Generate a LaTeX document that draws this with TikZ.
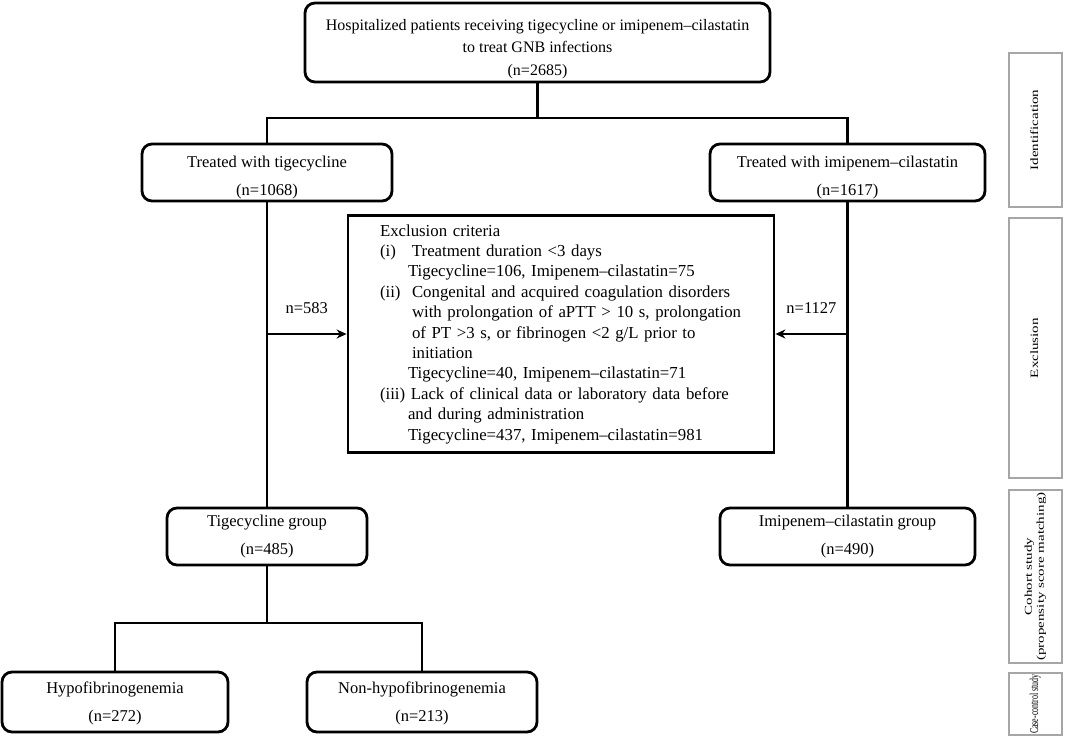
\documentclass[tikz,border=0pt]{standalone}
\usepackage{fontspec}
\setmainfont{Liberation Serif}
\usetikzlibrary{arrows.meta,calc}
\tikzstyle{box}=[draw, line width=2.8pt, rounded corners=10pt, align=center, inner sep=0pt, font=\fontsize{16.5}{28}\selectfont]
\tikzstyle{exclbox}=[draw, line width=2.8pt, align=left, inner xsep=32pt, inner ysep=0pt, font=\fontsize{16.8}{20.4}\selectfont]
\tikzstyle{stagebox}=[draw=gray!70, line width=2.8pt, inner sep=0pt, minimum width=53pt, font=\fontsize{15}{17}\selectfont]
\tikzstyle{link}=[draw, line width=2.8pt]
\tikzstyle{arrow}=[link, -{Stealth[length=10pt,width=9pt]}]
\tikzstyle{countlabel}=[font=\fontsize{16.5}{20}\selectfont]
\newcommand{\stagetext}[3]{\rotatebox{90}{\scalebox{#1}[#2]{\begin{tabular}{@{}c@{}}#3\end{tabular}}}}
\newcommand{\topgap}[1]{\rule{0pt}{#1}}

\begin{document}
\begin{tikzpicture}[x=1pt, y=-1pt]
\useasboundingbox (0,0) rectangle (1065,737);

% main flow
\node (all) [box, minimum width=465pt, minimum height=79pt, font=\fontsize{16}{22.5}\selectfont] at (537.5,42.5)
  {\topgap{24pt}Hospitalized patients receiving tigecycline or imipenem–cilastatin\\to treat GNB infections\\(n=2685)};
\node (tig) [box, minimum width=250pt, minimum height=57pt] at (267,172.5) {\topgap{21pt}Treated with tigecycline\\(n=1068)};
\node (imi) [box, minimum width=275pt, minimum height=57pt] at (847.5,172.5) {\topgap{21pt}Treated with imipenem–cilastatin\\(n=1617)};
\node (excl) [exclbox, text width=362pt, minimum height=237pt] at (561,334) {%
  Exclusion criteria\\
  \makebox[32pt][l]{(i)}Treatment duration <3 days\\
  \hspace*{28pt}Tigecycline=106, Imipenem–cilastatin=75\\
  \makebox[32pt][l]{(ii)}Congenital and acquired coagulation disorders\\
  \hspace*{32pt}with prolongation of aPTT > 10 s, prolongation\\
  \hspace*{32pt}of PT >3 s, or fibrinogen <2 g/L prior to\\
  \hspace*{32pt}initiation\\
  \hspace*{28pt}Tigecycline=40, Imipenem–cilastatin=71\\
  (iii) Lack of clinical data or laboratory data before\\
  \hspace*{28pt}and during administration\\
  \hspace*{28pt}Tigecycline=437, Imipenem–cilastatin=981};
\node (tiggrp) [box, minimum width=200pt, minimum height=57pt] at (267,536.5) {Tigecycline group\\(n=485)};
\node (imigrp) [box, minimum width=255pt, minimum height=57pt] at (847.5,536.5) {Imipenem–cilastatin group\\(n=490)};
\node (hypo) [box, minimum width=226pt, minimum height=60pt] at (115,702) {\topgap{15pt}Hypofibrinogenemia\\(n=272)};
\node (nonhypo) [box, minimum width=230pt, minimum height=60pt] at (422,702) {\topgap{15pt}Non-hypofibrinogenemia\\(n=213)};

\coordinate (split) at (537.5,118);
\coordinate (split2) at (267,623);

\draw [link] (all) -- (split);
\draw [link] (tig.north) |- (split) -| (imi.north);
\draw [link] (tig) -- (tiggrp);
\draw [link] (imi) -- (imigrp);
\draw [arrow] (tig.south |- excl.west) -- node[countlabel, above=16pt] (cnttig) {n=583} (excl.west);
\draw [arrow] (imi.south |- excl.east) -- node[countlabel, above=16pt] (cntimi) {n=1127} (excl.east);
\draw [link] (tiggrp) -- (split2);
\draw [link] (hypo.north) |- (split2) -| (nonhypo.north);

% stages on the right
\node (ident) [stagebox, minimum height=154pt] at (1035.5,130) {\stagetext{1}{0.75}{Identification}};
\node (exclst) [stagebox, minimum height=260pt] at (1035.5,348) {\stagetext{1}{0.75}{Exclusion}};
\node (cohort) [stagebox, minimum height=173pt] at (1035.5,576.5) {\stagetext{1}{0.7}{Cohort study\\(propensity score matching)}};
\node (casectl) [stagebox, minimum height=62pt] at (1035.5,704) {\stagetext{0.53}{0.8}{Case-control study}};

\end{tikzpicture}
\end{document}
